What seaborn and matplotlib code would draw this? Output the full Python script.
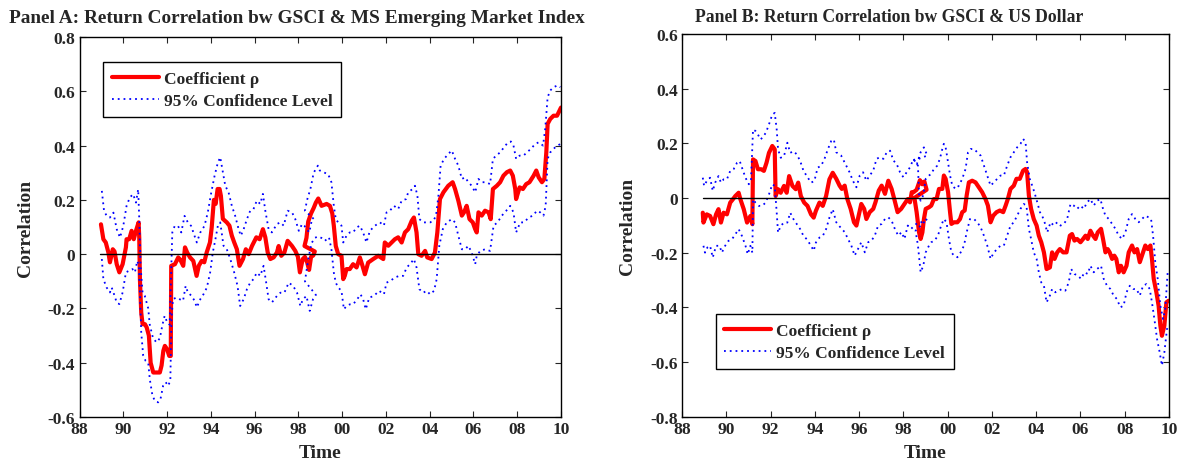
import matplotlib
matplotlib.use("Agg")
import matplotlib.pyplot as plt
import seaborn as sns

# ---------------- data ----------------
# Panel A: GSCI vs MS Emerging Market Index
a_rho_x = [1988.98, 1989.09, 1989.2, 1989.32, 1989.39, 1989.52, 1989.6, 1989.7, 1989.82, 1989.97,
           1990.12, 1990.15, 1990.27, 1990.38, 1990.48, 1990.58, 1990.7, 1990.73, 1990.76, 1990.82,
           1990.88, 1990.99, 1991.07, 1991.17, 1991.25, 1991.37, 1991.67, 1991.75, 1991.83, 1991.9,
           1992.0, 1992.1, 1992.17, 1992.19, 1992.36, 1992.51, 1992.6, 1992.74, 1992.82, 1992.92,
           1993.05, 1993.2, 1993.35, 1993.45, 1993.58, 1993.7, 1993.81, 1993.96, 1994.04, 1994.14,
           1994.22, 1994.31, 1994.4, 1994.46, 1994.55, 1994.73, 1994.85, 1994.96, 1995.07, 1995.19,
           1995.31, 1995.47, 1995.6, 1995.73, 1995.88, 1996.08, 1996.23, 1996.38, 1996.49, 1996.6,
           1996.72, 1996.87, 1997.02, 1997.1, 1997.22, 1997.36, 1997.51, 1997.71, 1997.86, 1997.98,
           1998.07, 1998.2, 1998.3, 1998.4, 1998.49, 1998.58, 1998.68, 1998.75,
           1998.28, 1998.37, 1998.45, 1998.58, 1998.7, 1998.8, 1998.91, 1999.06, 1999.29, 1999.44,
           1999.55, 1999.62, 1999.71, 1999.82, 1999.97, 2000.05, 2000.12, 2000.2, 2000.35, 2000.5,
           2000.66, 2000.81, 2000.93, 2001.04, 2001.19, 2001.42, 2001.65, 2001.88, 2001.95, 2002.11,
           2002.26, 2002.41, 2002.56, 2002.72, 2002.87, 2003.02, 2003.18, 2003.28, 2003.4, 2003.48,
           2003.63, 2003.79, 2003.89, 2004.09, 2004.24, 2004.35, 2004.47, 2004.63, 2004.85, 2005.05,
           2005.16, 2005.31, 2005.47, 2005.57, 2005.69, 2005.82, 2005.97, 2006.08, 2006.15, 2006.23,
           2006.38, 2006.53, 2006.69, 2006.79, 2006.89, 2007.07, 2007.22, 2007.37, 2007.53, 2007.68,
           2007.8, 2007.91, 2007.95, 2008.11, 2008.26, 2008.41, 2008.56, 2008.75, 2008.87, 2008.98,
           2009.13, 2009.24, 2009.33, 2009.39, 2009.51, 2009.66, 2009.82, 2009.94, 2010.0]
a_rho_y = [0.11, 0.055, 0.043, 0.006, -0.03, 0.018, 0.01, -0.037, -0.067, -0.037,
           0.025, 0.055, 0.055, 0.086, 0.055, 0.086, 0.117, 0.06, -0.092, -0.215,
           -0.258, -0.258, -0.27, -0.3, -0.4, -0.436, -0.436, -0.41, -0.356, -0.338,
           -0.35, -0.375, -0.375, -0.043, -0.037, -0.012, -0.02, -0.043, 0.025, 0.006,
           -0.012, -0.025, -0.08, -0.043, -0.025, -0.03, 0.006, 0.043, 0.098, 0.2,
           0.185, 0.24, 0.24, 0.215, 0.13, 0.117, 0.105, 0.068, 0.043, 0.018,
           -0.043, -0.018, 0.018, 0.0, 0.03, 0.062, 0.055, 0.092, 0.062, 0.006,
           -0.018, -0.012, 0.006, 0.03, -0.006, 0.006, 0.049, 0.03, 0.012, -0.01,
           -0.067, -0.018, -0.01, -0.03, -0.058, -0.01, -0.005, 0.01,
           0.03, 0.06, 0.12, 0.15, 0.17, 0.19, 0.205, 0.178, 0.185, 0.178,
           0.15, 0.105, 0.03, 0.0, -0.006, -0.092, -0.08, -0.055, -0.055, -0.037,
           -0.049, -0.012, -0.043, -0.074, -0.031, -0.018, -0.006, -0.018, 0.043, 0.031,
           0.043, 0.055, 0.062, 0.043, 0.08, 0.092, 0.123, 0.135, 0.08, 0.0,
           -0.006, 0.012, -0.012, -0.018, 0.006, 0.08, 0.203, 0.228, 0.252, 0.265,
           0.24, 0.197, 0.142, 0.154, 0.178, 0.129, 0.117, 0.092, 0.08, 0.154,
           0.142, 0.16, 0.154, 0.129, 0.24, 0.252, 0.265, 0.289, 0.302, 0.308,
           0.289, 0.24, 0.203, 0.246, 0.24, 0.258, 0.265, 0.289, 0.308, 0.283,
           0.265, 0.277, 0.375, 0.48, 0.498, 0.51, 0.51, 0.53, 0.54]

a_up_x = [1989.02, 1989.12, 1989.24, 1989.39, 1989.55, 1989.7, 1989.85, 1990.0, 1990.15, 1990.3,
          1990.45, 1990.58, 1990.68, 1990.73, 1990.79, 1990.88, 1990.98, 1991.14, 1991.21, 1991.36,
          1991.52, 1991.67, 1991.79, 1991.89, 1992.0, 1992.12, 1992.18, 1992.24, 1992.35, 1992.5,
          1992.65, 1992.8, 1992.95, 1993.1, 1993.26, 1993.36, 1993.52, 1993.71, 1993.86, 1994.02,
          1994.17, 1994.32, 1994.43, 1994.55, 1994.66, 1994.81, 1994.96, 1995.11, 1995.27, 1995.37,
          1995.5, 1995.65, 1995.8, 1995.95, 1996.1, 1996.26, 1996.38, 1996.49, 1996.64, 1996.79,
          1997.02, 1997.18, 1997.33, 1997.51, 1997.71, 1997.86, 1998.02, 1998.17, 1998.27, 1998.4,
          1998.5, 1998.6, 1998.7,
          1998.3, 1998.4, 1998.55, 1998.7, 1998.89, 1998.98, 1999.13, 1999.36, 1999.51, 1999.62,
          1999.71, 1999.82, 1999.97, 2000.05, 2000.2, 2000.35, 2000.5, 2000.66, 2000.81, 2000.96,
          2001.11, 2001.27, 2001.5, 2001.73, 2001.91, 2002.03, 2002.18, 2002.37, 2002.56, 2002.72,
          2002.92, 2003.02, 2003.22, 2003.33, 2003.44, 2003.53, 2003.71, 2003.86, 2004.02, 2004.17,
          2004.29, 2004.4, 2004.5, 2004.66, 2004.85, 2005.01, 2005.16, 2005.31, 2005.47, 2005.62,
          2005.77, 2005.92, 2006.08, 2006.23, 2006.38, 2006.58, 2006.76, 2006.89, 2007.04, 2007.22,
          2007.4, 2007.56, 2007.71, 2007.83, 2007.95, 2008.11, 2008.29, 2008.44, 2008.63, 2008.82,
          2008.98, 2009.18, 2009.28, 2009.39, 2009.51, 2009.66, 2009.85, 2009.97]
a_up_y = [0.233, 0.16, 0.141, 0.135, 0.153, 0.092, 0.061, 0.104, 0.178, 0.209,
          0.221, 0.19, 0.239, 0.129, -0.043, -0.141, -0.153, -0.2, -0.26, -0.31,
          -0.325, -0.31, -0.26, -0.227, -0.25, -0.26, -0.09, 0.08, 0.104, 0.104,
          0.08, 0.141, 0.117, 0.104, 0.067, 0.043, 0.08, 0.104, 0.153, 0.227,
          0.288, 0.337, 0.357, 0.302, 0.252, 0.228, 0.178, 0.142, 0.092, 0.068,
          0.092, 0.129, 0.16, 0.166, 0.197, 0.185, 0.222, 0.16, 0.092, 0.08,
          0.111, 0.117, 0.105, 0.16, 0.154, 0.129, 0.086, 0.111, 0.105, 0.09,
          0.08, 0.12, 0.13,
          0.16, 0.2, 0.24, 0.3, 0.326, 0.308, 0.302, 0.295, 0.265, 0.178,
          0.129, 0.117, 0.105, 0.043, 0.068, 0.08, 0.08, 0.098, 0.105, 0.08,
          0.043, 0.086, 0.105, 0.117, 0.105, 0.154, 0.16, 0.178, 0.166, 0.197,
          0.203, 0.228, 0.24, 0.252, 0.215, 0.129, 0.117, 0.117, 0.117, 0.123,
          0.142, 0.215, 0.326, 0.351, 0.369, 0.382, 0.351, 0.326, 0.277, 0.283,
          0.265, 0.252, 0.228, 0.277, 0.265, 0.265, 0.258, 0.351, 0.363, 0.375,
          0.394, 0.41, 0.415, 0.4, 0.351, 0.363, 0.363, 0.375, 0.388, 0.406,
          0.412, 0.4, 0.462, 0.578, 0.603, 0.615, 0.622, 0.615]

a_lo_x = [1989.02, 1989.09, 1989.24, 1989.39, 1989.47, 1989.55, 1989.7, 1989.82, 1989.97, 1990.12,
          1990.27, 1990.42, 1990.53, 1990.64, 1990.71, 1990.76, 1990.82, 1990.91, 1991.02, 1991.14,
          1991.21, 1991.33, 1991.44, 1991.59, 1991.7, 1991.82, 1991.94, 1992.05, 1992.15, 1992.2,
          1992.27, 1992.42, 1992.58, 1992.73, 1992.85, 1992.95, 1993.11, 1993.26, 1993.36, 1993.52,
          1993.67, 1993.82, 1993.97, 1994.09, 1994.21, 1994.32, 1994.43, 1994.58, 1994.73, 1994.89,
          1995.07, 1995.22, 1995.34, 1995.5, 1995.65, 1995.8, 1995.95, 1996.1, 1996.26, 1996.41,
          1996.53, 1996.64, 1996.79, 1997.02, 1997.18, 1997.36, 1997.56, 1997.76, 1997.94, 1998.09,
          1998.21, 1998.37, 1998.52, 1998.67, 1998.8,
          1998.3, 1998.45, 1998.6, 1998.75, 1998.9, 1999.05, 1999.21, 1999.4, 1999.51, 1999.62,
          1999.71, 1999.82, 1999.97, 2000.08, 2000.2, 2000.35, 2000.5, 2000.69, 2000.84, 2000.96,
          2001.08, 2001.24, 2001.45, 2001.69, 2001.91, 2002.03, 2002.21, 2002.41, 2002.61, 2002.79,
          2002.95, 2003.1, 2003.28, 2003.4, 2003.53, 2003.71, 2003.86, 2004.02, 2004.2, 2004.32,
          2004.44, 2004.6, 2004.78, 2005.01, 2005.16, 2005.31, 2005.47, 2005.62, 2005.77, 2005.92,
          2006.08, 2006.15, 2006.31, 2006.53, 2006.76, 2006.92, 2007.1, 2007.3, 2007.5, 2007.68,
          2007.83, 2007.95, 2008.14, 2008.32, 2008.52, 2008.72, 2008.9, 2009.05, 2009.2, 2009.3,
          2009.39, 2009.51, 2009.74, 2009.97]
a_lo_y = [-0.018, -0.092, -0.123, -0.141, -0.123, -0.141, -0.178, -0.184, -0.141, -0.067,
          -0.061, -0.055, -0.067, -0.025, -0.043, -0.141, -0.288, -0.374, -0.393, -0.4,
          -0.46, -0.52, -0.54, -0.546, -0.534, -0.485, -0.472, -0.485, -0.466, -0.24,
          -0.166, -0.16, -0.166, -0.172, -0.117, -0.141, -0.153, -0.172, -0.196, -0.166,
          -0.147, -0.123, -0.067, 0.006, 0.055, 0.104, 0.117, 0.031, 0.018, -0.018,
          -0.068, -0.117, -0.191, -0.166, -0.129, -0.105, -0.092, -0.068, -0.08, -0.043,
          -0.105, -0.166, -0.178, -0.154, -0.142, -0.142, -0.105, -0.117, -0.142, -0.191,
          -0.166, -0.154, -0.209, -0.166, -0.15,
          -0.1, -0.02, 0.04, 0.06, 0.065, 0.06, 0.049, 0.062, 0.018, -0.068,
          -0.105, -0.123, -0.135, -0.203, -0.191, -0.185, -0.185, -0.166, -0.148, -0.166,
          -0.203, -0.16, -0.154, -0.135, -0.148, -0.105, -0.098, -0.086, -0.08, -0.08,
          -0.049, -0.037, -0.018, -0.049, -0.129, -0.142, -0.135, -0.148, -0.135, -0.092,
          0.031, 0.092, 0.117, 0.129, 0.117, 0.068, 0.018, 0.018, 0.031, 0.006,
          -0.037, -0.006, 0.012, 0.018, 0.012, 0.105, 0.117, 0.142, 0.16, 0.178,
          0.154, 0.08, 0.117, 0.117, 0.135, 0.142, 0.16, 0.154, 0.142, 0.178,
          0.351, 0.375, 0.394, 0.406]

# Panel B: GSCI vs US Dollar
b_rho_x = [1988.94, 1988.97, 1989.12, 1989.27, 1989.42, 1989.54, 1989.65, 1989.76, 1989.88, 1990.03,
           1990.18, 1990.3, 1990.41, 1990.56, 1990.64, 1990.79, 1990.94, 1991.09, 1991.18, 1991.21,
           1991.32, 1991.43, 1991.58, 1991.7, 1991.82, 1991.93, 1992.08, 1992.19, 1992.23, 1992.34,
           1992.46, 1992.61, 1992.73, 1992.84, 1992.99, 1993.14, 1993.25, 1993.37, 1993.52, 1993.67,
           1993.83, 1993.95, 1994.05, 1994.21, 1994.36, 1994.51, 1994.66, 1994.81, 1994.97, 1995.12,
           1995.22, 1995.35, 1995.47, 1995.62, 1995.77, 1995.88, 1995.98, 1996.1, 1996.23, 1996.33,
           1996.48, 1996.64, 1996.74, 1996.89, 1997.02, 1997.17, 1997.32, 1997.47, 1997.59, 1997.74,
           1997.9, 1998.05, 1998.2, 1998.3, 1998.38, 1998.46, 1998.6, 1998.75, 1998.85, 1998.95, 1999.05,
           1998.5, 1998.6, 1998.71, 1998.78, 1998.86, 1998.93, 1999.01, 1999.16, 1999.26, 1999.38,
           1999.5, 1999.61, 1999.76, 1999.83, 1999.91, 2000.02, 2000.11, 2000.17, 2000.29, 2000.44,
           2000.56, 2000.66, 2000.77, 2000.86, 2000.96, 2001.11, 2001.26, 2001.41, 2001.56, 2001.71,
           2001.82, 2001.94, 2002.06, 2002.21, 2002.36, 2002.51, 2002.62, 2002.72, 2002.84, 2002.99,
           2003.11, 2003.26, 2003.41, 2003.52, 2003.59, 2003.67, 2003.77, 2003.89, 2004.02, 2004.12,
           2004.23, 2004.35, 2004.47, 2004.62, 2004.72, 2004.83, 2004.95, 2005.07, 2005.22, 2005.37,
           2005.52, 2005.62, 2005.73, 2005.85, 2006.0, 2006.12, 2006.23, 2006.33, 2006.45, 2006.57,
           2006.68, 2006.78, 2006.93, 2007.02, 2007.13, 2007.23, 2007.32, 2007.43, 2007.53, 2007.62,
           2007.73, 2007.83, 2007.95, 2008.08, 2008.18, 2008.33, 2008.44, 2008.56, 2008.68, 2008.78,
           2008.93, 2009.04, 2009.16, 2009.23, 2009.31, 2009.43, 2009.53, 2009.61, 2009.68, 2009.79,
           2009.88, 2009.98]
b_rho_y = [-0.054, -0.09, -0.06, -0.066, -0.096, -0.06, -0.041, -0.09, -0.054, -0.06,
           -0.017, -0.005, 0.007, 0.019, -0.005, -0.041, -0.09, -0.066, -0.096, 0.141,
           0.135, 0.105, 0.105, 0.099, 0.129, 0.165, 0.19, 0.178, 0.007, 0.032,
           0.019, 0.044, 0.019, 0.08, 0.044, 0.032, 0.056, 0.007, -0.017, -0.029,
           -0.06, -0.072, -0.047, -0.017, -0.029, 0.007, 0.068, 0.092, 0.07, 0.045,
           0.033, 0.045, -0.004, -0.04, -0.089, -0.101, -0.065, -0.022, -0.04, -0.077,
           -0.052, -0.04, -0.016, 0.027, 0.045, 0.015, 0.063, 0.033, -0.004, -0.052,
           -0.04, -0.022, -0.004, -0.016, 0.021, 0.021, 0.03, 0.065, 0.05, 0.06, 0.03,
           0.0, -0.052, -0.126, -0.15, -0.126, -0.077, -0.04, -0.034, -0.028, -0.004,
           -0.004, 0.033, 0.033, 0.082, 0.07, 0.021, -0.052, -0.095, -0.089, -0.089,
           -0.077, -0.052, -0.046, 0.009, 0.057, 0.063, 0.057, 0.039, 0.021, -0.004,
           -0.028, -0.089, -0.065, -0.052, -0.046, -0.052, -0.028, -0.004, 0.033, 0.045,
           0.07, 0.07, 0.1, 0.106, 0.094, 0.009, -0.04, -0.077, -0.101, -0.138,
           -0.162, -0.199, -0.26, -0.254, -0.199, -0.223, -0.199, -0.187, -0.199, -0.199,
           -0.138, -0.132, -0.156, -0.15, -0.162, -0.15, -0.138, -0.15, -0.12, -0.138,
           -0.15, -0.126, -0.113, -0.15, -0.199, -0.187, -0.199, -0.223, -0.211, -0.223,
           -0.272, -0.248, -0.272, -0.248, -0.199, -0.174, -0.199, -0.187, -0.235, -0.211,
           -0.174, -0.187, -0.174, -0.223, -0.296, -0.345, -0.394, -0.467, -0.504, -0.467,
           -0.382, -0.376]

b_up_x = [1988.94, 1989.0, 1989.12, 1989.27, 1989.39, 1989.5, 1989.65, 1989.76, 1989.88, 1990.03,
          1990.18, 1990.33, 1990.49, 1990.61, 1990.71, 1990.87, 1991.02, 1991.12, 1991.21, 1991.32,
          1991.43, 1991.55, 1991.7, 1991.82, 1991.93, 1992.08, 1992.19, 1992.28, 1992.34, 1992.46,
          1992.61, 1992.76, 1992.89, 1993.04, 1993.19, 1993.34, 1993.49, 1993.64, 1993.83, 1993.98,
          1994.13, 1994.28, 1994.43, 1994.59, 1994.74, 1994.86, 1994.97, 1995.19, 1995.42, 1995.57,
          1995.72, 1995.88, 1996.03, 1996.18, 1996.33, 1996.48, 1996.64, 1996.79, 1996.94, 1997.1,
          1997.25, 1997.4, 1997.55, 1997.7, 1997.85, 1998.0, 1998.15, 1998.3, 1998.46, 1998.61,
          1998.78, 1998.93, 1999.08,
          1998.5, 1998.66, 1998.71, 1998.78, 1998.9, 1999.01, 1999.16, 1999.26, 1999.38, 1999.53,
          1999.65, 1999.76, 1999.83, 1999.91, 2000.02, 2000.11, 2000.21, 2000.36, 2000.51, 2000.66,
          2000.81, 2000.92, 2001.04, 2001.19, 2001.34, 2001.49, 2001.64, 2001.79, 2001.94, 2002.09,
          2002.24, 2002.39, 2002.54, 2002.69, 2002.84, 2002.99, 2003.14, 2003.29, 2003.41, 2003.52,
          2003.59, 2003.71, 2003.82, 2003.92, 2004.05, 2004.17, 2004.27, 2004.38, 2004.5, 2004.65,
          2004.8, 2004.95, 2005.1, 2005.25, 2005.4, 2005.55, 2005.7, 2005.85, 2006.0, 2006.15,
          2006.3, 2006.45, 2006.6, 2006.75, 2006.9, 2007.02, 2007.13, 2007.28, 2007.43, 2007.58,
          2007.73, 2007.88, 2008.03, 2008.18, 2008.33, 2008.48, 2008.63, 2008.78, 2008.93, 2009.08,
          2009.19, 2009.28, 2009.38, 2009.49, 2009.61, 2009.73, 2009.83, 2009.94]
b_up_y = [0.074, 0.044, 0.062, 0.074, 0.026, 0.056, 0.08, 0.056, 0.068, 0.068,
          0.099, 0.105, 0.129, 0.135, 0.111, 0.074, 0.05, 0.068, 0.25, 0.245,
          0.232, 0.214, 0.226, 0.245, 0.269, 0.305, 0.311, 0.25, 0.178, 0.147,
          0.153, 0.202, 0.165, 0.171, 0.159, 0.135, 0.099, 0.08, 0.056, 0.062,
          0.111, 0.117, 0.141, 0.178, 0.208, 0.214, 0.167, 0.155, 0.118, 0.094,
          0.063, 0.039, 0.082, 0.094, 0.063, 0.082, 0.1, 0.143, 0.149, 0.143,
          0.167, 0.173, 0.137, 0.124, 0.094, 0.076, 0.094, 0.112, 0.143, 0.124,
          0.167, 0.185, 0.155,
          0.137, 0.118, 0.009, -0.01, 0.01, 0.07, 0.082, 0.088, 0.106, 0.118,
          0.143, 0.179, 0.198, 0.185, 0.13, 0.082, 0.045, 0.033, 0.045, 0.07,
          0.106, 0.167, 0.179, 0.179, 0.167, 0.155, 0.118, 0.082, 0.045, 0.057,
          0.07, 0.082, 0.082, 0.118, 0.149, 0.167, 0.185, 0.198, 0.216, 0.204,
          0.13, 0.07, 0.045, 0.021, -0.016, -0.052, -0.065, -0.089, -0.126, -0.089,
          -0.101, -0.089, -0.101, -0.095, -0.077, -0.022, -0.028, -0.04, -0.028, -0.04,
          -0.016, -0.004, -0.028, -0.01, -0.004, -0.04, -0.065, -0.077, -0.095, -0.113,
          -0.138, -0.15, -0.126, -0.077, -0.059, -0.077, -0.089, -0.077, -0.065, -0.071,
          -0.077, -0.138, -0.235, -0.296, -0.394, -0.443, -0.406, -0.272]

b_lo_x = [1988.97, 1989.04, 1989.15, 1989.27, 1989.39, 1989.54, 1989.7, 1989.8, 1989.95, 1990.1,
          1990.26, 1990.41, 1990.56, 1990.71, 1990.87, 1990.97, 1991.09, 1991.18, 1991.21, 1991.32,
          1991.47, 1991.62, 1991.78, 1991.93, 1992.08, 1992.19, 1992.28, 1992.34, 1992.46, 1992.61,
          1992.76, 1992.89, 1993.04, 1993.19, 1993.34, 1993.49, 1993.64, 1993.83, 1993.95, 1994.05,
          1994.21, 1994.36, 1994.51, 1994.66, 1994.81, 1994.97, 1995.12, 1995.35, 1995.5, 1995.65,
          1995.8, 1995.95, 1996.1, 1996.26, 1996.41, 1996.56, 1996.71, 1996.86, 1997.02, 1997.17,
          1997.32, 1997.47, 1997.62, 1997.77, 1997.92, 1998.05, 1998.2, 1998.35, 1998.5, 1998.65,
          1998.8, 1998.95, 1999.08,
          1998.55, 1998.66, 1998.78, 1998.9, 1999.01, 1999.16, 1999.26, 1999.41, 1999.56, 1999.71,
          1999.83, 1999.95, 2000.06, 2000.17, 2000.29, 2000.44, 2000.59, 2000.74, 2000.86, 2001.01,
          2001.19, 2001.34, 2001.49, 2001.64, 2001.79, 2001.94, 2002.09, 2002.24, 2002.39, 2002.54,
          2002.69, 2002.84, 2002.99, 2003.14, 2003.29, 2003.44, 2003.56, 2003.67, 2003.77, 2003.89,
          2004.02, 2004.12, 2004.23, 2004.35, 2004.47, 2004.62, 2004.72, 2004.87, 2005.02, 2005.17,
          2005.32, 2005.47, 2005.58, 2005.73, 2005.88, 2006.03, 2006.18, 2006.33, 2006.45, 2006.6,
          2006.75, 2006.93, 2007.05, 2007.2, 2007.35, 2007.5, 2007.65, 2007.8, 2007.95, 2008.08,
          2008.23, 2008.38, 2008.53, 2008.68, 2008.83, 2008.98, 2009.13, 2009.23, 2009.34, 2009.46,
          2009.58, 2009.68, 2009.79, 2009.91, 2010.0]
b_lo_y = [-0.175, -0.2, -0.181, -0.175, -0.218, -0.175, -0.175, -0.2, -0.175, -0.157,
          -0.151, -0.133, -0.114, -0.139, -0.175, -0.206, -0.175, -0.2, -0.005, -0.017,
          -0.029, -0.029, -0.017, 0.013, 0.05, 0.044, -0.054, -0.127, -0.102, -0.09,
          -0.09, -0.054, -0.078, -0.096, -0.114, -0.139, -0.151, -0.175, -0.193, -0.163,
          -0.145, -0.139, -0.114, -0.072, -0.041, -0.089, -0.104, -0.125, -0.15, -0.174,
          -0.211, -0.187, -0.162, -0.199, -0.162, -0.156, -0.138, -0.101, -0.095, -0.077,
          -0.071, -0.083, -0.114, -0.138, -0.125, -0.15, -0.101, -0.113, -0.101, -0.09,
          -0.089, -0.085, -0.077,
          -0.12, -0.174, -0.272, -0.248, -0.199, -0.174, -0.162, -0.156, -0.138, -0.101,
          -0.077, -0.089, -0.15, -0.199, -0.211, -0.217, -0.199, -0.174, -0.126, -0.077,
          -0.077, -0.089, -0.107, -0.138, -0.174, -0.223, -0.199, -0.187, -0.174, -0.174,
          -0.138, -0.101, -0.089, -0.065, -0.04, -0.022, -0.028, -0.113, -0.15, -0.199,
          -0.223, -0.272, -0.309, -0.321, -0.382, -0.357, -0.333, -0.345, -0.339, -0.333,
          -0.339, -0.309, -0.26, -0.278, -0.284, -0.296, -0.272, -0.278, -0.248, -0.272,
          -0.26, -0.248, -0.296, -0.321, -0.333, -0.357, -0.37, -0.4, -0.394, -0.345,
          -0.321, -0.333, -0.333, -0.357, -0.321, -0.315, -0.333, -0.382, -0.443, -0.516,
          -0.565, -0.613, -0.565, -0.479, -0.467]

zero_span = [1988.95, 2010.0]
year_ticks = list(range(1988, 2011, 2))
year_labels = ["88", "90", "92", "94", "96", "98", "00", "02", "04", "06", "08", "10"]
a_yticks = [-0.6, -0.4, -0.2, 0, 0.2, 0.4, 0.6, 0.8]
a_ylabels = ["-0.6", "-0.4", "-0.2", "0", "0.2", "0.4", "0.6", "0.8"]
b_yticks = [-0.8, -0.6, -0.4, -0.2, 0, 0.2, 0.4, 0.6]
b_ylabels = ["-0.8", "-0.6", "-0.4", "-0.2", "0", "0.2", "0.4", "0.6"]

# ---------------- styling ----------------
sns.set_style("ticks")
plt.rcParams["font.family"] = ["Liberation Serif", "DejaVu Serif"]
plt.rcParams["xtick.direction"] = "in"
plt.rcParams["ytick.direction"] = "in"
plt.rcParams["xtick.top"] = True
plt.rcParams["ytick.right"] = True

fig = plt.figure(figsize=(11.85, 4.64), dpi=100)
axA = fig.add_axes([0.0671, 0.0991, 0.4063, 0.819])
axB = fig.add_axes([0.5755, 0.0998, 0.411, 0.825])


def draw_panel(ax, rx, ry, ux, uy, lx, ly, yticks, ylabels, legend_anchor):
    sns.lineplot(x=rx, y=ry, sort=False, estimator=None, color="#ff0000", lw=3.0,
                 ax=ax, label="Coefficient \u03c1")
    sns.lineplot(x=ux, y=uy, sort=False, estimator=None, color="#0000ff", lw=1.3,
                 dashes=False, ax=ax, label="95% Confidence Level")
    sns.lineplot(x=lx, y=ly, sort=False, estimator=None, color="#0000ff", lw=1.3,
                 dashes=False, ax=ax)
    for ln in ax.lines[1:3]:
        ln.set_linestyle((0, (1, 2.2)))
    ax.plot(zero_span, [0, 0], color="black", lw=1.0)

    ax.set_xlim(year_ticks[0], year_ticks[-1])
    ax.set_ylim(yticks[0], yticks[-1])
    ax.set_xticks(year_ticks)
    ax.set_xticklabels(year_labels)
    ax.set_yticks(yticks)
    ax.set_yticklabels(ylabels)
    ax.tick_params(labelsize=12.5, length=4, width=0.8, pad=3)
    for t in ax.get_xticklabels() + ax.get_yticklabels():
        t.set_fontweight("bold")
    for sp in ax.spines.values():
        sp.set_linewidth(1.0)
        sp.set_color("black")
    ax.set_xlabel("Time", fontsize=14, fontweight="bold", labelpad=5)
    ax.set_ylabel("Correlation", fontsize=14, fontweight="bold", labelpad=10)

    leg = ax.legend(loc="upper left", bbox_to_anchor=legend_anchor, frameon=True,
                    fancybox=False, edgecolor="black", framealpha=1, fontsize=12.5,
                    handlelength=2.7, handletextpad=0.3, borderpad=0.5,
                    labelspacing=0.32, borderaxespad=0)
    leg.get_frame().set_linewidth(1.0)
    for t in leg.get_texts():
        t.set_fontweight("bold")


draw_panel(axA, a_rho_x, a_rho_y, a_up_x, a_up_y, a_lo_x, a_lo_y,
           a_yticks, a_ylabels, (0.049, 0.934))
draw_panel(axB, b_rho_x, b_rho_y, b_up_x, b_up_y, b_lo_x, b_lo_y,
           b_yticks, b_ylabels, (0.069, 0.268))

fig.text(0.2502, 0.9495, "Panel A: Return Correlation bw GSCI & MS Emerging Market Index",
         ha="center", va="baseline", fontsize=13.9, fontweight="bold")
fig.text(0.7506, 0.953, "Panel B: Return Correlation bw GSCI & US Dollar",
         ha="center", va="baseline", fontsize=12.7, fontweight="bold")

fig.savefig("out.png", dpi=100)
